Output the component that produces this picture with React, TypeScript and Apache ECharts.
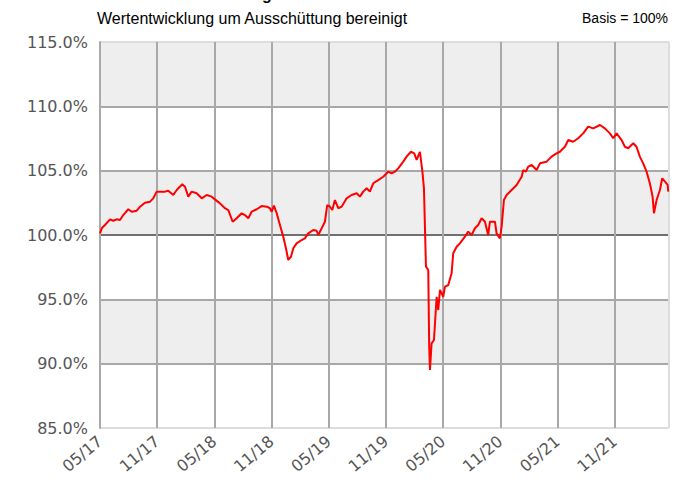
import React, { useEffect, useRef } from "react";
import * as echarts from "echarts";

// x = months since 05/2017, y = value in % (Basis = 100%)
const months = [
  0, 0.18, 0.52, 1.05, 1.4, 1.75, 2.1, 2.44, 2.97, 3.33, 3.85, 4.2, 4.72, 5.25, 5.59, 5.95,
  6.29, 6.82, 7.16, 7.69, 8.05, 8.63, 8.92, 9.26, 9.62, 10.14, 10.67, 11.19, 11.72,
  12.06, 12.59, 13.11, 13.46, 13.92, 14.34, 14.86, 15.21, 15.56, 15.91, 16.44, 16.96, 17.49,
  17.83, 18.01, 18.25, 18.54, 18.88, 19.23, 19.51, 19.75, 20.04, 20.28, 20.63, 21.16, 21.5,
  21.85, 22.38, 22.73, 22.9, 23.26, 23.6, 23.84, 24.13, 24.37, 24.65, 25.0, 25.35, 25.88,
  26.4, 26.93, 27.27, 27.62, 27.98, 28.32, 28.67, 29.19, 29.72, 30.24, 30.6, 30.94, 31.29,
  31.82, 32.17, 32.62, 32.97, 33.22, 33.57, 33.83, 33.99, 34.2, 34.44, 34.54, 34.62, 34.79,
  35.04, 35.32, 35.49, 35.67, 36.01, 36.19, 36.54, 36.89, 37.06, 37.42, 37.76, 38.29, 38.63,
  38.99, 39.34, 39.68, 40.04, 40.39, 40.73, 40.91, 41.44, 41.61, 41.96, 42.14, 42.38, 42.66,
  43.19, 43.71, 44.24, 44.41, 44.69, 44.93, 45.29, 45.81, 46.16, 46.86, 47.38, 47.91, 48.25,
  48.78, 49.13, 49.65, 50.17, 50.7, 51.22, 51.75, 52.45, 52.97, 53.5, 53.85, 54.2, 54.73,
  55.07, 55.42, 55.95, 56.29, 56.64, 56.99, 57.35, 57.69, 57.98, 58.12, 58.4, 58.75, 58.99,
  59.28, 59.56, 59.62,
];
const values = [
  100.13, 100.52, 100.78, 101.22, 101.11, 101.22, 101.17, 101.55, 102.0, 101.81, 101.89, 102.2,
  102.51, 102.59, 102.85, 103.37, 103.37, 103.37, 103.44, 103.11, 103.5, 103.94, 103.75, 102.98,
  103.37, 103.24, 102.85, 103.11, 102.98, 102.77, 102.46, 102.08, 101.94, 101.03, 101.3, 101.69,
  101.55, 101.3, 101.81, 102.0, 102.25, 102.2, 102.08, 101.81, 102.28, 101.69, 100.78, 99.87,
  98.97, 98.06, 98.31, 98.97, 99.35, 99.61, 99.74, 100.13, 100.39, 100.33, 100.0, 100.52, 101.03,
  102.33, 102.2, 101.94, 102.72, 102.08, 102.2, 102.85, 103.11, 103.24, 102.98, 103.37, 103.63,
  103.37, 104.02, 104.27, 104.53, 104.92, 104.8, 104.92, 105.18, 105.7, 106.09, 106.47, 106.35,
  105.83, 106.47, 104.9, 103.63, 97.54, 97.28, 91.32, 89.51, 91.58, 91.84, 95.2, 94.17, 95.73,
  95.2, 95.98, 96.11, 97.02, 98.58, 99.09, 99.35, 99.87, 100.26, 100.0, 100.52, 100.78, 101.3,
  101.03, 100.0, 101.03, 101.03, 100.13, 99.74, 100.65, 102.72, 103.11, 103.5, 103.89, 104.53,
  105.05, 104.92, 105.31, 105.44, 105.05, 105.57, 105.7, 106.09, 106.35, 106.47, 106.86, 107.38,
  107.25, 107.52, 107.9, 108.42, 108.29, 108.55, 108.29, 107.9, 107.52, 107.9, 107.38, 106.86,
  106.74, 107.13, 106.86, 106.09, 105.57, 104.92, 104.02, 102.98, 101.69, 102.72, 103.5, 104.41,
  104.14, 103.89, 103.37,
];

const startYear = 2017;
const startMonth = 5;
const xMax = 59.7;
const yMin = 85;
const yMax = 115;
const yStep = 5;
const xStep = 6;

const headTitle = "Wertentwicklung";
const subTitle = "Wertentwicklung um Ausschüttung bereinigt";
const basisText = "Basis = 100%";

function monthLabel(v: number): string {
  const total = startMonth - 1 + Math.round(v);
  const m = (total % 12) + 1;
  const y = (startYear + Math.floor(total / 12)) % 100;
  return String(m).padStart(2, "0") + "/" + String(y).padStart(2, "0");
}

export default function App() {
  const ref = useRef<HTMLDivElement>(null);
  useEffect(() => {
    if (!ref.current) return;
    const chart = echarts.init(ref.current, null, { renderer: "svg" });
    const data = months.map((m, i) => [m, values[i]]);
    const grayLine = "#a8a8a8";
    const lightLine = "#dddddd";
    chart.setOption({
      animation: false,
      backgroundColor: "#ffffff",
      grid: {
        left: 100,
        right: 11,
        top: 42,
        bottom: 68,
        show: true,
        borderColor: lightLine,
        borderWidth: 1,
      },
      graphic: [
        {
          type: "text",
          left: 144,
          top: -14,
          style: {
            text: headTitle,
            font: "bold 16px 'Liberation Sans', Arial, sans-serif",
            fill: "#000",
          },
        },
        {
          type: "text",
          left: 97,
          top: 10,
          style: {
            text: subTitle,
            font: "16px 'Liberation Sans', Arial, sans-serif",
            fill: "#000",
          },
        },
        {
          type: "text",
          right: 12,
          top: 11,
          style: {
            text: basisText,
            font: "14px 'Liberation Sans', Arial, sans-serif",
            fill: "#000",
          },
        },
      ],
      xAxis: {
        type: "value",
        min: 0,
        max: xMax,
        interval: xStep,
        axisLine: { show: false },
        axisTick: { show: false },
        splitLine: {
          show: true,
          lineStyle: {
            color: [grayLine, grayLine, grayLine, grayLine, grayLine, grayLine, grayLine, grayLine, grayLine, grayLine, lightLine],
            width: 2,
          },
        },
        axisLabel: {
          rotate: 40,
          margin: 11,
          showMaxLabel: false,
          color: "#555555",
          fontFamily: "'DejaVu Sans', Verdana, sans-serif",
          fontSize: 16,
          formatter: (v: number) => monthLabel(v),
        },
      },
      yAxis: {
        type: "value",
        min: yMin,
        max: yMax,
        interval: yStep,
        axisLine: { show: true, lineStyle: { color: "#aaaaaa", width: 2 } },
        axisTick: { show: false },
        splitLine: {
          show: true,
          lineStyle: {
            color: [lightLine, grayLine, grayLine, "#707070", grayLine, grayLine, lightLine],
            width: 2,
          },
        },
        splitArea: { show: true, areaStyle: { color: ["#ffffff", "#eeeeee"] } },
        axisLabel: {
          margin: 12,
          color: "#555555",
          fontFamily: "'DejaVu Sans', Verdana, sans-serif",
          fontSize: 16,
          formatter: (v: number) => v.toFixed(1) + "%",
        },
      },
      series: [
        {
          type: "line",
          data,
          showSymbol: false,
          symbol: "none",
          lineStyle: { color: "#ff0000", width: 2 },
          z: 5,
        },
      ],
    });
    return () => chart.dispose();
  }, []);
  return (
    <div
      ref={ref}
      style={{ position: "absolute", left: 0, top: 0, width: 680, height: 496 }}
    />
  );
}
